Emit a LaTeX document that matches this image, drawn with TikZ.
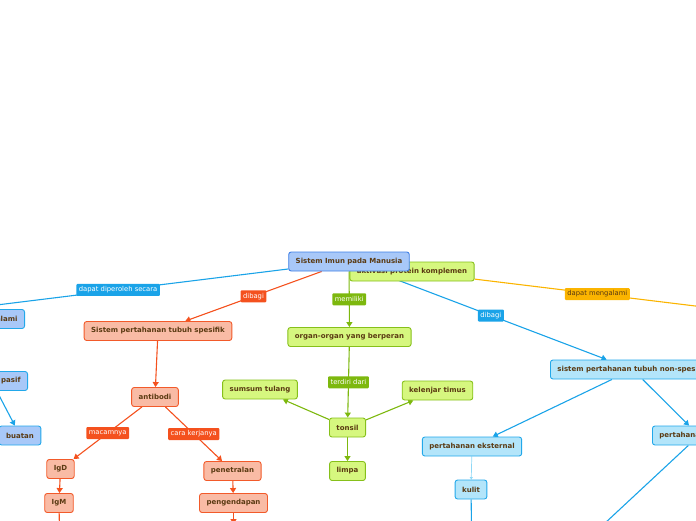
\documentclass[tikz,border=0pt]{standalone}
\usepackage{fontspec}
\setmainfont{DejaVu Sans}
\usetikzlibrary{arrows.meta}
\definecolor{ink}{HTML}{5A3A12}
\definecolor{rootFill}{HTML}{A8C8F8}
\definecolor{rootLine}{HTML}{3F7FE6}
\definecolor{skyFill}{HTML}{B3E5FA}
\definecolor{skyLine}{HTML}{22A8EA}
\definecolor{limeFill}{HTML}{D6F77F}
\definecolor{limeLine}{HTML}{86C01A}
\definecolor{peachFill}{HTML}{F9BBA5}
\definecolor{peachLine}{HTML}{F25A2A}
\definecolor{orangeEdge}{HTML}{F4511E}
\definecolor{greenEdge}{HTML}{7DB80E}
\definecolor{blueEdge}{HTML}{1AA3E8}
\definecolor{paleEdge}{HTML}{8FD8F6}
\definecolor{goldEdge}{HTML}{FBB400}
\pgfdeclarelayer{bg}
\pgfsetlayers{bg,main}

\begin{document}
\begin{tikzpicture}[x=1pt,y=-1pt,
  concept/.style={draw, rounded corners=2.5pt, line width=0.9pt, text=ink,
    font=\bfseries\fontsize{7}{8}\selectfont, inner xsep=7pt, minimum height=19pt},
  rootbox/.style={concept, fill=rootFill, draw=rootLine},
  skybox/.style={concept, fill=skyFill, draw=skyLine},
  limebox/.style={concept, fill=limeFill, draw=limeLine},
  peachbox/.style={concept, fill=peachFill, draw=peachLine},
  leftbox/.style={concept, fill=rootFill, draw=skyLine},
  edge/.style={line width=1.1pt, -{Triangle[width=6pt,length=5pt]}},
  lab/.style={fill=#1, text=white, font=\fontsize{6.8}{7}\selectfont,
    inner xsep=2.5pt, inner ysep=1.5pt, rounded corners=1pt, minimum height=12pt}]
  \useasboundingbox (0,0) rectangle (696,520);
  \clip (0,0) rectangle (696,520);
  % concepts
  \node[limebox] (komplemen) at (412,271.5) {aktivasi protein komplemen};
  \node[rootbox] (imun) at (349,261.5) {Sistem Imun pada Manusia};
  \node[leftbox, anchor=east] (alami) at (25,319) {alami};
  \node[leftbox, anchor=east, text width=58pt, align=right] (pasif) at (28,381) {pasif};
  \node[leftbox] (buatan) at (20,435.5) {buatan};
  \node[peachbox] (spesifik) at (158,331) {Sistem pertahanan tubuh spesifik};
  \node[peachbox] (antibodi) at (155,397) {antibodi};
  \node[peachbox] (igd) at (60.5,469) {IgD};
  \node[peachbox] (igm) at (59,503) {IgM};
  \node[peachbox] (netral) at (232.5,471) {penetralan};
  \node[peachbox] (endap) at (233.5,503) {pengendapan};
  \node[limebox] (organ) at (349.5,337) {organ-organ yang berperan};
  \node[limebox] (sumsum) at (260,389.5) {sumsum tulang};
  \node[limebox] (timus) at (437.5,390.5) {kelenjar timus};
  \node[limebox] (tonsil) at (347.5,427.5) {tonsil};
  \node[limebox] (limpa) at (347.5,471) {limpa};
  \node[skybox, anchor=west] (nonspes) at (550,369.5) {sistem pertahanan tubuh non-spesifik};
  \node[skybox] (eksternal) at (472,446.5) {pertahanan eksternal};
  \node[skybox] (kulit) at (471,489.5) {kulit};
  \node[skybox, anchor=west] (internal) at (652,435.5) {pertahanan internal};
  \coordinate (kiri) at (-52,311);
  \coordinate (kanan) at (720,309);
  \coordinate (bawahIg) at (60,560);
  \coordinate (bawahEndap) at (233.5,524);
  \coordinate (bawahKulit) at (472,560);
  \coordinate (bawahInt) at (560,565);
  % connectors
  \begin{pgfonlayer}{bg}
    \draw[line width=1.1pt, blueEdge] (imun) -- node[lab=blueEdge] {dapat diperoleh secara} (kiri);
    \draw[line width=1.1pt, goldEdge] (komplemen) -- node[lab=goldEdge, text=ink] {dapat mengalami} (kanan);
    \draw[edge, orangeEdge] (imun) -- node[lab=orangeEdge] {dibagi} (spesifik);
    \draw[edge, greenEdge] (imun) -- node[lab=greenEdge] {memiliki} (organ);
    \draw[edge, blueEdge] (imun) -- node[lab=blueEdge] {dibagi} (nonspes);
    \draw[edge, orangeEdge] (spesifik) -- (antibodi);
    \draw[edge, orangeEdge] (antibodi) -- node[lab=orangeEdge] {macamnya} (igd);
    \draw[edge, orangeEdge] (antibodi) -- node[lab=orangeEdge] {cara kerjanya} (netral);
    \draw[edge, orangeEdge] (igd) -- (igm);
    \draw[line width=1.1pt, orangeEdge] (igm) -- (bawahIg);
    \draw[edge, orangeEdge] (netral) -- (endap);
    \draw[edge, orangeEdge] (endap) -- (bawahEndap);
    \draw[edge, greenEdge] (organ) -- node[lab=greenEdge] {terdiri dari} (tonsil);
    \draw[edge, greenEdge] (tonsil) -- (sumsum);
    \draw[edge, greenEdge] (tonsil) -- (timus);
    \draw[edge, greenEdge] (tonsil) -- (limpa);
    \draw[edge, blueEdge] (nonspes) -- (eksternal);
    \draw[edge, blueEdge] (nonspes) -- (internal);
    \draw[paleEdge, line width=0.7pt, -{Triangle[width=3pt,length=2.5pt]}] (eksternal) -- (kulit);
    \draw[line width=1.1pt, blueEdge] (kulit) -- (bawahKulit);
    \draw[line width=1.1pt, blueEdge] (internal) -- (bawahInt);
    \draw[edge, blueEdge] (pasif) -- (buatan);
  \end{pgfonlayer}
\end{tikzpicture}
\end{document}
